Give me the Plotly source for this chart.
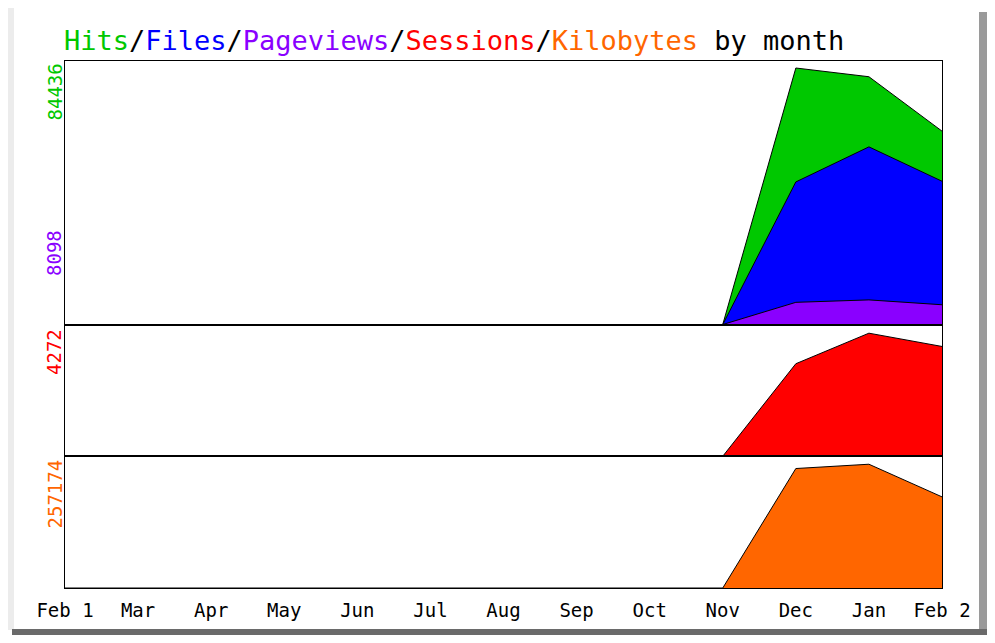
import plotly.graph_objects as go
from plotly.subplots import make_subplots

months = ["Feb 1", "Mar", "Apr", "May", "Jun", "Jul", "Aug", "Sep", "Oct", "Nov", "Dec", "Jan", "Feb 2"]
hits = [0, 0, 0, 0, 0, 0, 0, 0, 0, 0, 84436, 81566, 63657]
files = [0, 0, 0, 0, 0, 0, 0, 0, 0, 0, 46935, 58480, 47166]
pageviews = [0, 0, 0, 0, 0, 0, 0, 0, 0, 0, 7300, 8098, 6500]
sessions = [0, 0, 0, 0, 0, 0, 0, 0, 0, 0, 3212, 4272, 3811]
kilobytes = [0, 0, 0, 0, 0, 0, 0, 0, 0, 0, 248250, 257174, 189350]

axis_labels = ["84436", "8098", "4272", "257174"]

C_HITS = "#00c800"
C_FILES = "#0000ff"
C_PAGES = "#8a00ff"
C_SESS = "#ff0000"
C_KB = "#ff6600"

FONT = "DejaVu Sans Mono"
x = list(range(len(months)))

fig = make_subplots(rows=3, cols=1, shared_xaxes=True, vertical_spacing=0,
                    row_heights=[0.5, 0.25, 0.25])

def area(y, color, row):
    fig.add_trace(go.Scatter(x=x, y=y, mode="lines", fill="tozeroy",
                             fillcolor=color, line=dict(color="black", width=1),
                             showlegend=False, hoverinfo="skip"), row=row, col=1)

area(hits, C_HITS, 1)
area(files, C_FILES, 1)
area(pageviews, C_PAGES, 1)
area(sessions, C_SESS, 2)
area(kilobytes, C_KB, 3)

ax_common = dict(showline=True, mirror=True, linecolor="black", linewidth=1.2,
                 showgrid=False, zeroline=False, ticks="")
for r in (1, 2, 3):
    fig.update_xaxes(range=[0, 12], tickmode="array", tickvals=x, ticktext=months,
                     showticklabels=(r == 3), tickfont=dict(family=FONT, size=19, color="black"),
                     ticklabelstandoff=5, row=r, col=1, **ax_common)
fig.update_yaxes(showticklabels=False, **ax_common)
fig.update_yaxes(range=[0, max(hits) * 263 / 256], row=1, col=1)
fig.update_yaxes(range=[0, max(sessions) * 132 / 123.3], row=2, col=1)
fig.update_yaxes(range=[0, max(kilobytes) * 132 / 124], row=3, col=1)

# screen geometry (page body has an 8px margin)
OFF = 8
W, H = 995, 643
L, R, T, B = 65, 53, 61, 55
pw, ph = W - L - R, H - T - B

def px(xp):
    return (xp - L) / pw

def py(yp):
    return (H - B - yp) / ph

title = (f'<span style="color:{C_HITS}">Hits</span>/'
         f'<span style="color:{C_FILES}">Files</span>/'
         f'<span style="color:{C_PAGES}">Pageviews</span>/'
         f'<span style="color:{C_SESS}">Sessions</span>/'
         f'<span style="color:{C_KB}">Kilobytes</span> by month')
fig.add_annotation(text=title, xref="paper", yref="paper", x=px(62), y=py(40),
                   xanchor="left", yanchor="middle", showarrow=False,
                   font=dict(family=FONT, size=27, color="black"))

label_specs = [(axis_labels[0], C_HITS, 62, "top"),
               (axis_labels[1], C_PAGES, 253, "middle"),
               (axis_labels[2], C_SESS, 327, "top"),
               (axis_labels[3], C_KB, 458, "top")]
for txt, col, yy, anc in label_specs:
    fig.add_annotation(text=txt, xref="paper", yref="paper", x=px(54), y=py(yy),
                       xanchor="center", yanchor=anc, textangle=-90, showarrow=False,
                       font=dict(family=FONT, size=19, color=col))

# bevelled frame
fig.add_shape(type="rect", xref="paper", yref="paper", x0=px(8), x1=px(14),
              y0=py(630), y1=py(8), fillcolor="#ececec", line=dict(width=0), layer="below")
fig.add_shape(type="rect", xref="paper", yref="paper", x0=px(979), x1=px(996),
              y0=py(644), y1=py(12), fillcolor="#9a9a9a", line=dict(width=0))
fig.add_shape(type="rect", xref="paper", yref="paper", x0=px(12), x1=px(996),
              y0=py(644), y1=py(629), fillcolor="#6a6a6a", line=dict(width=0))

fig.update_layout(width=W - 2 * OFF, height=H - 2 * OFF,
                  margin=dict(l=L - OFF, r=R - OFF, t=T - OFF, b=B - OFF),
                  paper_bgcolor="white", plot_bgcolor="white", showlegend=False)

fig.write_html("out.html")
